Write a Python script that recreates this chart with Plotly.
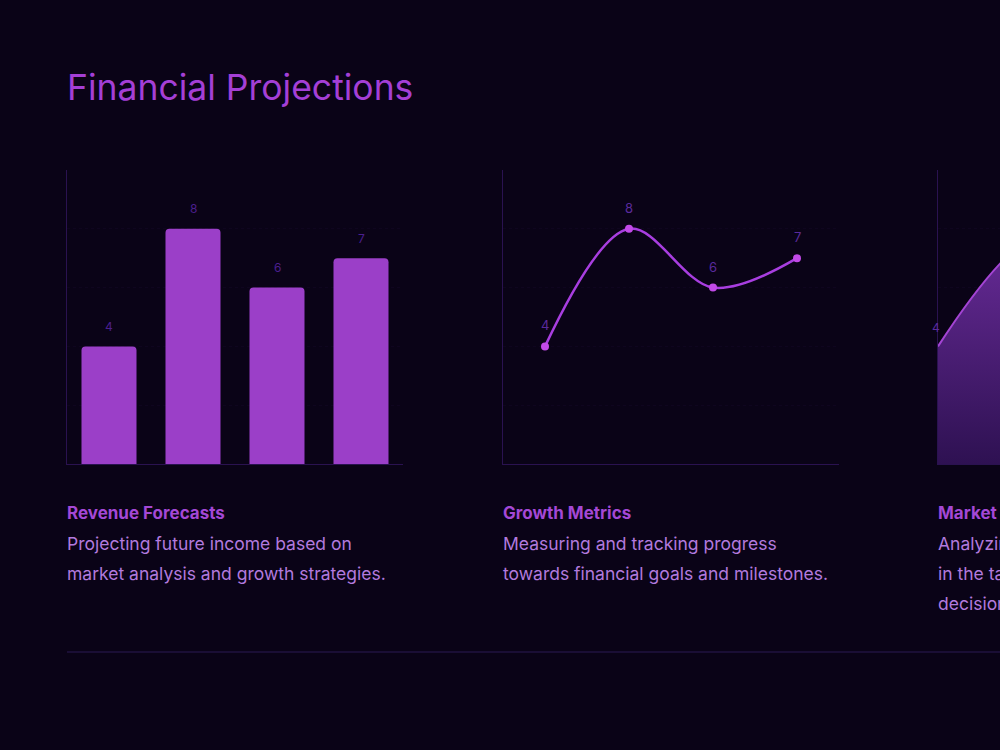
import plotly.graph_objects as go

categories = ["Q1", "Q2", "Q3", "Q4"]
revenue = [4, 8, 6, 7]
growth = [4, 8, 6, 7]
market = [4, 8, 6, 7]
market_x = [0, 1, 2, 3]

title = "Financial Projections"
cards = [
    ("Revenue Forecasts", ["Projecting future income based on", "market analysis and growth strategies."]),
    ("Growth Metrics", ["Measuring and tracking progress", "towards financial goals and milestones."]),
    ("Market Analysis", ["Analyzing trends and opportunities", "in the target market to guide strategic", "decisions."]),
]

BG = "#0a0317"
AXIS = "#2a1250"
GRID = "rgba(70,30,110,0.10)"
W, H = 1000, 750

def px(x):
    return x / W

def py(y):
    return 1 - y / H

fig = go.Figure()

# Chart 1: bars
fig.add_trace(go.Bar(x=categories, y=revenue,
                     marker=dict(color="#9b3fc8", cornerradius=4, line=dict(width=0)),
                     xaxis="x", yaxis="y", hoverinfo="skip", width=0.655))
# Chart 2: smooth line
fig.add_trace(go.Scatter(x=categories, y=growth, mode="lines+markers",
                         line=dict(color="#a83ee0", width=2.5, shape="spline", smoothing=1),
                         marker=dict(color="#c24ae8", size=8),
                         xaxis="x2", yaxis="y2", hoverinfo="skip"))
# Chart 3: area
fig.add_trace(go.Scatter(x=market_x, y=market, mode="lines", fill="tozeroy",
                         line=dict(color="#a444d4", width=2, shape="spline", smoothing=1),
                         fillgradient=dict(type="vertical", start=0, stop=8,
                                           colorscale=[[0, "#2e1152"], [1, "#6a2c9a"]]),
                         xaxis="x3", yaxis="y3", hoverinfo="skip"))

ydom = [py(464), py(170)]
common_y = dict(range=[0, 10], showline=True, linecolor=AXIS, linewidth=1, showgrid=True,
                gridcolor=GRID, griddash="dot", dtick=2, showticklabels=False, zeroline=False,
                ticks="")
fig.update_layout(
    width=W, height=H, paper_bgcolor=BG, plot_bgcolor=BG, showlegend=False,
    margin=dict(l=0, r=0, t=0, b=0), bargap=0.345,
    xaxis=dict(domain=[px(67), px(403)], showline=True, linecolor=AXIS, showgrid=False,
               showticklabels=False, ticks=""),
    yaxis=dict(domain=ydom, **common_y),
    xaxis2=dict(domain=[px(503), px(839)], anchor="y2", range=[-0.5, 3.5], showline=True,
                linecolor=AXIS, showgrid=False, showticklabels=False, ticks=""),
    yaxis2=dict(domain=ydom, anchor="x2", **common_y),
    xaxis3=dict(domain=[px(938), 1.0], anchor="y3", range=[0, 3 * 62 / 336], showline=True,
                linecolor=AXIS, showgrid=False, showticklabels=False, ticks="", zeroline=False),
    yaxis3=dict(domain=ydom, anchor="x3", **common_y),
    font=dict(family="Inter, sans-serif"),
)

anns = []
for c, v in zip(categories, revenue):
    anns.append(dict(x=c, y=v, xref="x", yref="y", text=str(v), showarrow=False, yshift=20,
                     font=dict(size=12, color="#4b1f8e")))
for c, v in zip(categories, growth):
    anns.append(dict(x=c, y=v, xref="x2", yref="y2", text=str(v), showarrow=False, yshift=21,
                     font=dict(size=13, color="#5a2a9c")))
for xv, v in zip(market_x, market):
    anns.append(dict(x=xv, y=v, xref="x3", yref="y3", text=str(v), showarrow=False, yshift=19,
                     xshift=-2, font=dict(size=12, color="#5a2a9c")))

anns.append(dict(x=px(65), y=py(88), xref="paper", yref="paper", text=title, showarrow=False,
                 xanchor="left", yanchor="middle", font=dict(size=35.5, color="#a43fd6")))

card_x = [65, 501, 936]
for cx, (head, lines) in zip(card_x, cards):
    anns.append(dict(x=px(cx), y=py(513), xref="paper", yref="paper", text="<b>" + head + "</b>",
                     showarrow=False, xanchor="left", yanchor="middle",
                     font=dict(size=17, color="#a448d6")))
    for i, ln in enumerate(lines):
        anns.append(dict(x=px(cx), y=py(543 + 30 * i), xref="paper", yref="paper", text=ln,
                         showarrow=False, xanchor="left", yanchor="middle",
                         font=dict(size=17.5, color="#b27ade")))
fig.update_layout(annotations=anns)

fig.add_shape(type="line", xref="paper", yref="paper", x0=px(67), x1=1.0, y0=py(652), y1=py(652),
              line=dict(color="#2a1a55", width=1))

fig.write_html("out.html")
